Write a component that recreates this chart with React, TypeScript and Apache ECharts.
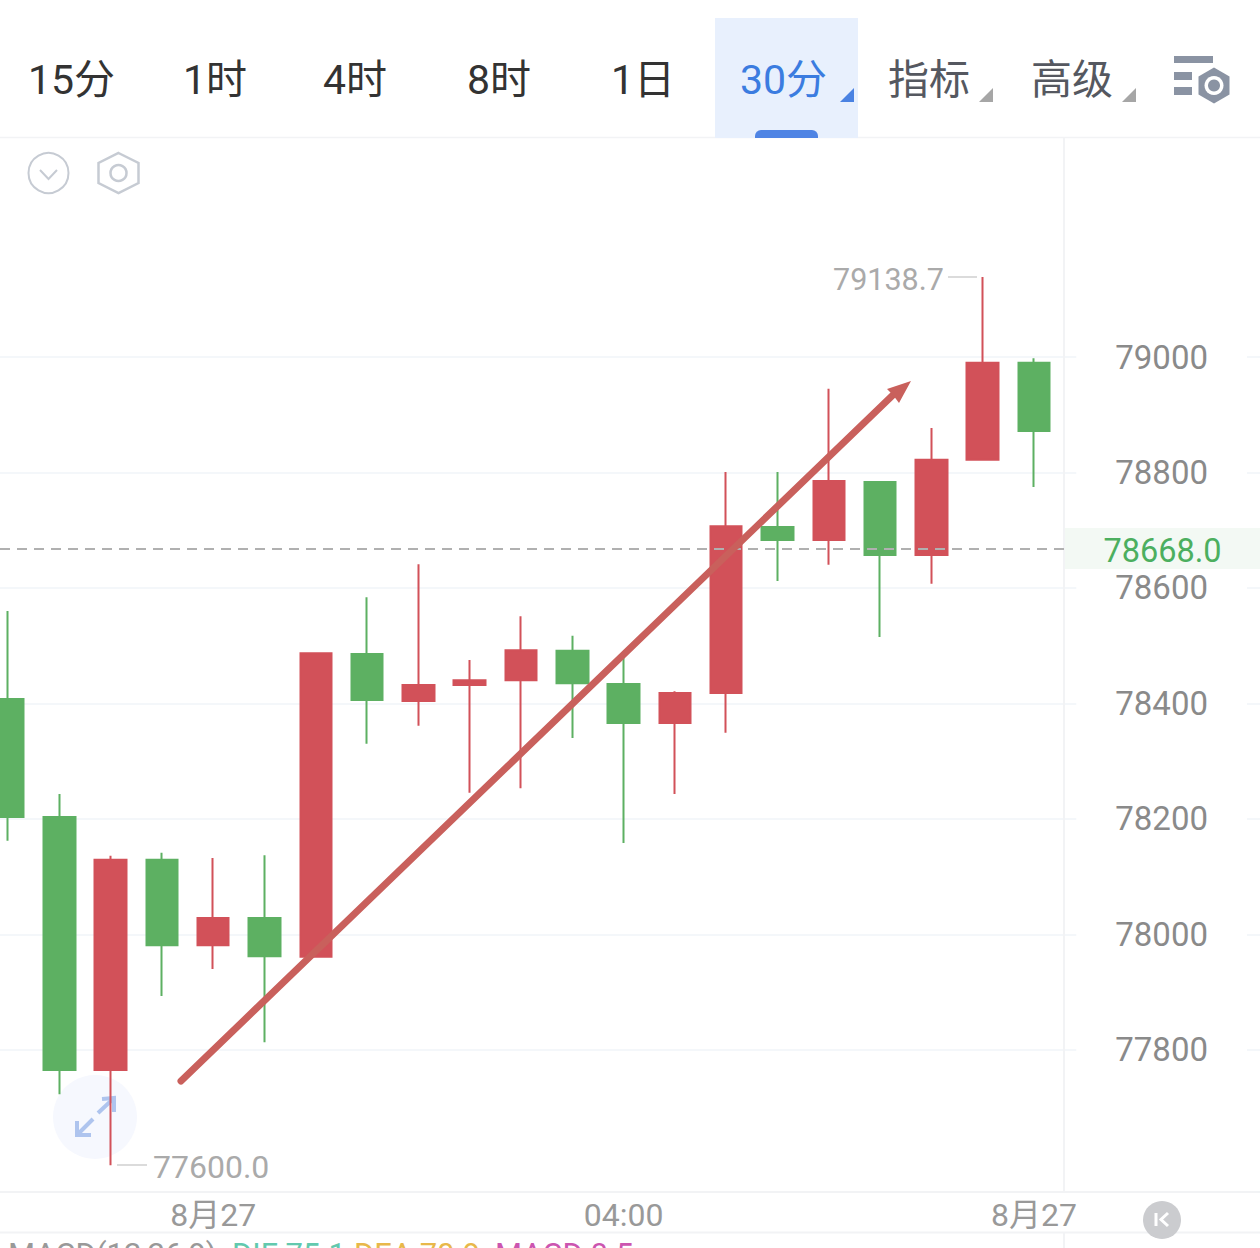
import React, { useEffect, useRef } from "react";
import * as echarts from "echarts";

const xTickIndex = [4, 12, 20];
const xTickLabels = ["8月27", "04:00", "8月27"];
const opens =  [78407.5,78203,77765,78129,77981,78028,77961,78485.5,78404,78432,78440,78491,78433.5,78366,78418,78705.5,78683,78783.5,78657,78822,78990];
const closes = [78203,77765,78129,77981,78028,77962,78487,78406,78432,78440,78492,78435,78366,78418,78707,78683,78785,78657,78822,78990,78872];
const lows =   [78162,77723,77600,77893,77940,77813,77961,78330,78361,78245,78253,78340,78158,78243,78349,78612,78640,78515,78607,78822,78775];
const highs =  [78560,78243,78136,78141,78132,78137,78487,78584,78641,78475,78551,78517,78490,78421,78801,78801,78945,78783.5,78877,79138.7,78998];
const yTicks = [77800,78000,78200,78400,78600,78800,79000];
const lastPrice = 78668.0;
const highLabel = "79138.7";
const lowLabel = "77600.0";
const tabs = ["15分","1时","4时","8时","1日"];
const FONT = "Roboto, 'Noto Sans CJK SC', sans-serif";

const candleData = opens.map((o, i) => [i, o, closes[i], lows[i], highs[i]]);

function txt(text: string, x: number, y: number, fill: string, fontSize: number, textAlign = "left", z = 8) {
  return { type: "text", x, y, z, silent: true, style: { text, fill, fontSize, fontFamily: FONT, textAlign, textVerticalAlign: "middle" } };
}
function ln(x1: number, y1: number, x2: number, y2: number, stroke: string, lineWidth = 2, z = 1) {
  return { type: "line", z, silent: true, shape: { x1, y1, x2, y2 }, style: { stroke, lineWidth, lineCap: "butt" } };
}
function tri(x: number, fill: string) {
  return { type: "polygon", z: 8, silent: true, shape: { points: [[x + 14, 88], [x + 14, 102], [x, 102]] }, style: { fill } };
}
function hex(cx: number, cy: number, rx: number, ry: number) {
  return [[cx, cy - ry], [cx + rx, cy - ry / 2], [cx + rx, cy + ry / 2], [cx, cy + ry], [cx - rx, cy + ry / 2], [cx - rx, cy - ry / 2]];
}

const SEP = "#f2f3f5";
const graphics: any[] = [
  // toolbar
  ...tabs.map((t, i) => txt(t, [28, 183, 323, 467, 611][i], 80, "#333333", 41)),
  { type: "rect", z: 3, silent: true, shape: { x: 715, y: 18, width: 143, height: 120 }, style: { fill: "#e8f0fd" } },
  { type: "rect", z: 4, silent: true, shape: { x: 755, y: 130, width: 63, height: 8, r: [6, 6, 0, 0] }, style: { fill: "#4f84e4" } },
  txt("30分", 740, 80, "#3b7ce0", 41),
  tri(840, "#4a82e2"),
  txt("指标", 888, 80, "#555860", 41),
  tri(979, "#a6a6a6"),
  txt("高级", 1031, 80, "#555860", 41),
  tri(1122, "#a6a6a6"),
  { type: "rect", z: 8, silent: true, shape: { x: 1174, y: 56, width: 39, height: 7 }, style: { fill: "#8a93a3" } },
  { type: "rect", z: 8, silent: true, shape: { x: 1174, y: 72, width: 18, height: 8 }, style: { fill: "#8a93a3" } },
  { type: "rect", z: 8, silent: true, shape: { x: 1174, y: 87, width: 18, height: 8 }, style: { fill: "#8a93a3" } },
  { type: "polygon", z: 8, silent: true, shape: { points: hex(1214, 85.5, 15.5, 18) }, style: { fill: "#8a93a3" } },
  { type: "circle", z: 9, silent: true, shape: { cx: 1214, cy: 85.5, r: 9.5 }, style: { fill: "#ffffff" } },
  { type: "circle", z: 9, silent: true, shape: { cx: 1214, cy: 85.5, r: 6 }, style: { fill: "#8a93a3" } },
  ln(0, 137.5, 1260, 137.5, SEP, 1.5),
  ln(1064, 138, 1064, 1192, SEP, 2),
  ln(1064, 1233, 1064, 1248, SEP, 2),
  ln(0, 1232.5, 1260, 1232.5, SEP, 2),
  // chart tools
  { type: "circle", z: 8, silent: true, shape: { cx: 48.5, cy: 173, r: 20 }, style: { fill: "none", stroke: "#c6cbd3", lineWidth: 2 } },
  { type: "polyline", z: 8, silent: true, shape: { points: [[40, 170], [48.5, 179], [57, 170]] }, style: { fill: "none", stroke: "#c6cbd3", lineWidth: 2 } },
  { type: "polygon", z: 8, silent: true, shape: { points: hex(118.5, 173, 20, 20) }, style: { fill: "none", stroke: "#c6cbd3", lineWidth: 2.5 } },
  { type: "circle", z: 8, silent: true, shape: { cx: 118.5, cy: 173, r: 8 }, style: { fill: "none", stroke: "#c6cbd3", lineWidth: 2.5 } },
  // expand button
  { type: "circle", z: 1, silent: true, shape: { cx: 95, cy: 1117, r: 42 }, style: { fill: "#f6f8fe" } },
  { type: "polyline", z: 1, silent: true, shape: { points: [[102, 1099], [114, 1098], [114, 1112]] }, style: { fill: "none", stroke: "#aec4ee", lineWidth: 4 } },
  ln(113, 1099, 98, 1113, "#aec4ee", 4),
  { type: "polyline", z: 1, silent: true, shape: { points: [[77, 1121], [77, 1135], [91, 1135]] }, style: { fill: "none", stroke: "#aec4ee", lineWidth: 4 } },
  ln(78, 1134, 93, 1119, "#aec4ee", 4),
  // extremes
  txt(highLabel, 833, 279, "#aaaaaa", 30.5),
  ln(948, 277, 977, 277, "#cfcfcf", 1.5),
  txt(lowLabel, 153, 1167, "#aaaaaa", 32),
  ln(117, 1165, 147, 1165, "#cfcfcf", 1.5),
  // hand-drawn arrow
  { type: "line", z: 7, silent: true, shape: { x1: 181, y1: 1081, x2: 894, y2: 394 }, style: { stroke: "#c9605c", lineWidth: 7, lineCap: "round" } },
  { type: "polygon", z: 7, silent: true, shape: { points: [[911, 381], [887, 389], [893, 395], [899, 403]] }, style: { fill: "#c9605c" } },
  // last price tag
  { type: "rect", z: 6, silent: true, shape: { x: 1065, y: 528, width: 195, height: 41 }, style: { fill: "#f3f9f4" } },
  txt(lastPrice.toFixed(1), 1162.5, 551, "#4caf5f", 32.5, "center"),
  // MACD line (cut off by the page edge, as in the reference)
  txt("MACD(12,26,9)", 8, 1254, "#999999", 31),
  txt("DIF:75.1", 232, 1254, "#62c9ae", 31),
  txt("DEA:70.9", 354, 1254, "#e8b84a", 31),
  txt("MACD:8.5", 495, 1254, "#cc55b0", 31),
  // badge
  { type: "circle", z: 8, silent: true, shape: { cx: 1162, cy: 1220, r: 19 }, style: { fill: "#cbcccf" } },
  ln(1156, 1213, 1156, 1226, "#ffffff", 3, 9),
  { type: "polyline", z: 9, silent: true, shape: { points: [[1168, 1213], [1161, 1219.5], [1168, 1226]] }, style: { fill: "none", stroke: "#ffffff", lineWidth: 3 } },
];

export default function App() {
  const ref = useRef<HTMLDivElement>(null);
  useEffect(() => {
    document.body.style.margin = "0";
    const chart = echarts.init(ref.current!, undefined, { renderer: "svg" });
    chart.setOption({
      animation: false,
      backgroundColor: "#ffffff",
      grid: { left: 0, top: 138, width: 1260, height: 1054, containLabel: false },
      xAxis: {
        type: "value",
        min: -0.156,
        max: 24.405,
        axisLine: { show: true, lineStyle: { color: SEP, width: 2 } },
        axisTick: { show: false, customValues: xTickIndex },
        splitLine: { show: false },
        axisLabel: {
          color: "#999999",
          fontSize: 32,
          fontFamily: FONT,
          margin: 7,
          customValues: xTickIndex,
          formatter: (v: number) => xTickLabels[xTickIndex.indexOf(v)] ?? "",
          hideOverlap: false,
        },
      },
      yAxis: {
        type: "value",
        position: "right",
        min: 77553.5,
        max: 79379.4,
        axisLine: { show: false },
        axisTick: { show: false, customValues: yTicks },
        splitLine: { show: true, lineStyle: { color: "#f1f5f8", width: 1.5 } },
        axisLabel: {
          inside: true,
          customValues: yTicks,
          formatter: (v: number) => String(v),
          margin: 13,
          color: "#8a8a8a",
          fontSize: 33,
          fontFamily: FONT,
          backgroundColor: "#ffffff",
          padding: [5, 39, 0, 39],
          showMinLabel: true,
          showMaxLabel: true,
          hideOverlap: false,
        },
      },
      series: [
        {
          type: "candlestick",
          data: candleData,
          encode: { x: 0, y: [1, 2, 3, 4] },
          barWidth: 32,
          clip: true,
          itemStyle: { color: "#d25159", color0: "#5db062", borderColor: "#d25159", borderColor0: "#5db062", borderWidth: 2 },
          markLine: {
            silent: true,
            symbol: "none",
            z: 5,
            label: { show: false },
            lineStyle: { color: "#b0b0b0", type: [10, 7], width: 2 },
            data: [{ yAxis: lastPrice }],
          },
        },
      ],
      graphic: { elements: graphics },
    });
    return () => chart.dispose();
  }, []);
  return <div ref={ref} style={{ position: "absolute", left: 0, top: 0, width: 1260, height: 1248 }} />;
}
